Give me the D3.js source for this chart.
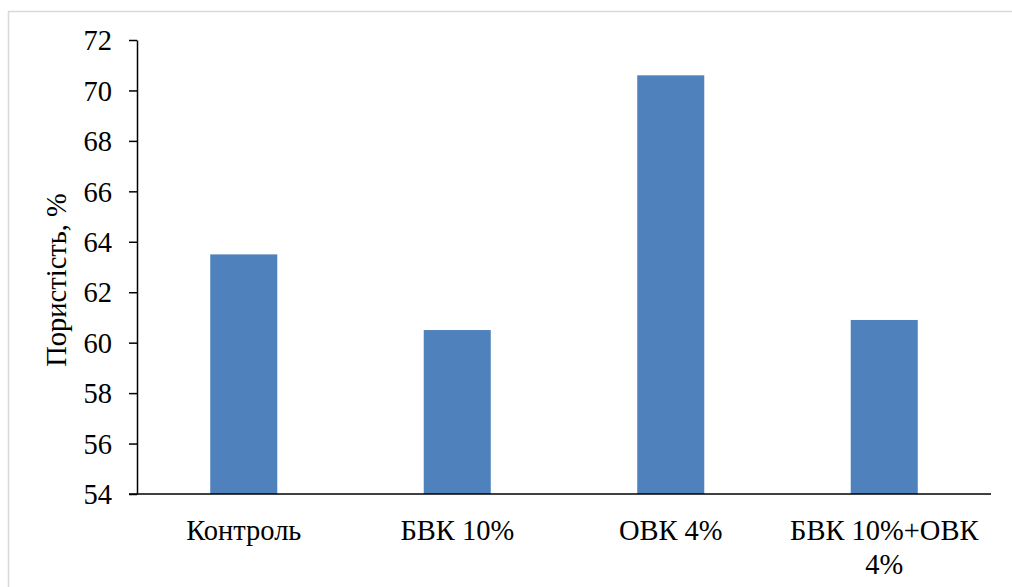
<!DOCTYPE html>
<html>
<head>
<meta charset="utf-8">
<script src="https://cdn.jsdelivr.net/npm/d3@7"></script>
<style>
  html, body { margin: 0; padding: 0; background: #fff; }
</style>
</head>
<body>
<svg id="chart" width="1012" height="587"></svg>
<script>
// Porosity by sample type
const categories = ["Контроль", "БВК 10%", "ОВК 4%", "БВК 10%+ОВК 4%"];
const categoryLines = [["Контроль"], ["БВК 10%"], ["ОВК 4%"], ["БВК 10%+ОВК", "4%"]];
const porosity = [63.5, 60.5, 70.6, 60.9];
const yTicks = [54, 56, 58, 60, 62, 64, 66, 68, 70, 72];
const yTitle = "Пористість, %";

const FONT = "'Liberation Serif', 'Times New Roman', serif";
const FONT_SIZE = "28.5px";

const svg = d3.select("#chart");
const W = 1012, H = 587;

// chart area frame
svg.append("rect")
  .attr("x", 8.5).attr("y", 11.5)
  .attr("width", W + 10).attr("height", H + 10)
  .attr("fill", "#fff").attr("stroke", "#d9d9d9").attr("stroke-width", 1.5);

const plot = { left: 137, right: 991, top: 40, bottom: 494 };

const x = d3.scaleBand()
  .domain(categories)
  .range([plot.left, plot.right])
  .paddingInner(0.686)
  .paddingOuter(0.343);

const y = d3.scaleLinear()
  .domain([54, 72])
  .range([plot.bottom, plot.top]);

// bars
svg.append("g").selectAll("rect")
  .data(categories)
  .join("rect")
  .attr("x", d => x(d))
  .attr("width", x.bandwidth())
  .attr("y", (d, i) => y(porosity[i]))
  .attr("height", (d, i) => y(54) - y(porosity[i]))
  .attr("fill", "#4F81BD");

// y axis
const yAxis = svg.append("g")
  .attr("transform", `translate(${plot.left},0)`)
  .call(d3.axisLeft(y).tickValues(yTicks).tickSize(8).tickSizeOuter(0).tickPadding(17));
yAxis.attr("font-family", null).attr("font-size", null);
yAxis.select(".domain").attr("stroke", "#000").attr("stroke-width", 1.5);
yAxis.selectAll(".tick line").attr("stroke", "#000").attr("stroke-width", 1.5);
yAxis.selectAll(".tick text")
  .style("font-family", FONT)
  .style("font-size", FONT_SIZE)
  .attr("fill", "#000")
  .attr("dy", "0.34em");

// x axis line
const xAxis = svg.append("g")
  .attr("transform", `translate(0,${plot.bottom})`)
  .call(d3.axisBottom(x).tickSize(0).tickSizeOuter(0).tickFormat(""));
xAxis.select(".domain").attr("stroke", "#000").attr("stroke-width", 1.5)
  .attr("d", `M${plot.left - 8},0H${plot.right}`);

// category labels
const labels = svg.append("g");
categories.forEach((c, i) => {
  const cx = x(c) + x.bandwidth() / 2;
  const t = labels.append("text")
    .attr("x", cx)
    .attr("y", 540)
    .attr("text-anchor", "middle")
    .style("font-family", FONT)
    .style("font-size", FONT_SIZE)
    .attr("fill", "#000");
  categoryLines[i].forEach((line, j) => {
    t.append("tspan")
      .attr("x", cx)
      .attr("dy", j === 0 ? 0 : 34)
      .text(line);
  });
});

// y axis title
svg.append("text")
  .attr("transform", `translate(66,${(plot.top + plot.bottom) / 2 + 13}) rotate(-90)`)
  .attr("text-anchor", "middle")
  .style("font-family", FONT)
  .style("font-size", FONT_SIZE)
  .attr("fill", "#000")
  .text(yTitle);
</script>
</body>
</html>
